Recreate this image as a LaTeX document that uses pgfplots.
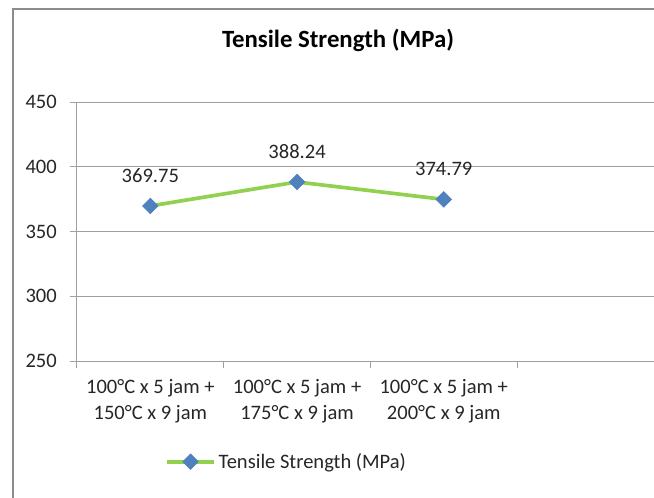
\documentclass[border=0pt]{standalone}
\usepackage{pgfplots}
\pgfplotsset{compat=1.18}
\usepackage{pgfplotstable}
\usepackage{fontspec}
\setmainfont{Carlito}

\definecolor{linegreen}{HTML}{92D050}
\definecolor{markblue}{HTML}{4F81BD}
\definecolor{gridgray}{HTML}{A0A0A0}
\definecolor{framegray}{HTML}{8C8C8C}
\definecolor{txt}{HTML}{262626}

% tensile strength per heat treatment
\pgfplotstableread{
x y
1 369.75
2 388.24
3 374.79
}\tensile

\begin{document}
\begin{tikzpicture}
% chart frame (cut off at right and bottom)
\draw[framegray, line width=0.8pt] (9.75pt,-20pt) -- (9.75pt,366pt) -- (520pt,366pt);
\node[font=\fontsize{18.6}{22}\selectfont\bfseries] at (253.5pt,342.75pt) {Tensile Strength (MPa)};
\begin{axis}[
  at={(57.75pt,102pt)}, anchor=south west,
  scale only axis, width=433.5pt, height=194.25pt,
  xmin=0.5, xmax=4.44, ymin=250, ymax=450,
  ytick={250,300,...,450},
  xtick={1,2,3},
  xticklabels={{100°C x 5 jam +\\150°C x 9 jam},{100°C x 5 jam +\\175°C x 9 jam},{100°C x 5 jam +\\200°C x 9 jam}},
  minor xtick={0.5,1.5,2.5,3.5},
  axis x line=bottom, axis y line=left,
  axis line style={-, gridgray, line width=0.75pt},
  major x tick style={draw=none},
  minor x tick style={gridgray, line width=0.75pt},
  major y tick style={gridgray, line width=0.75pt},
  tick align=outside, major tick length=5.25pt, minor tick length=5.25pt,
  ymajorgrids, grid style={gridgray, line width=0.75pt},
  /pgf/number format/assume math mode=true,
  tick label style={font=\fontsize{15.4}{20}\selectfont, text=txt},
  yticklabel style={inner sep=0pt, anchor=east, xshift=-9.75pt},
  xticklabel style={align=center, inner sep=0pt, anchor=north, yshift=-8pt},
  nodes near coords, point meta=explicit symbolic,
  every node near coord/.append style={anchor=center, yshift=22.5pt, font=\fontsize{15.4}{18}\selectfont, text=txt},
  legend style={at={(0.1522,-0.3887)}, anchor=west, draw=none, fill=none,
    inner sep=0pt, font=\fontsize{15.4}{18}\selectfont, text=txt},
  legend image code/.code={
    \draw[#1, mark=none] (0pt,0pt) -- (35.25pt,0pt);
    \draw[#1, only marks] plot coordinates {(17.6pt,0pt)};
  },
]
\addplot[linegreen, line width=2.75pt, mark=square*, mark size=4.1pt,
  mark options={rotate=45, fill=markblue, draw=markblue, line width=0.5pt}]
  table[x=x, y=y, meta=y] {\tensile};
\legend{Tensile Strength (MPa)}
\end{axis}
\pgfresetboundingbox
\useasboundingbox (0pt,0pt) rectangle (490.5pt,372.75pt);
\end{tikzpicture}
\end{document}
